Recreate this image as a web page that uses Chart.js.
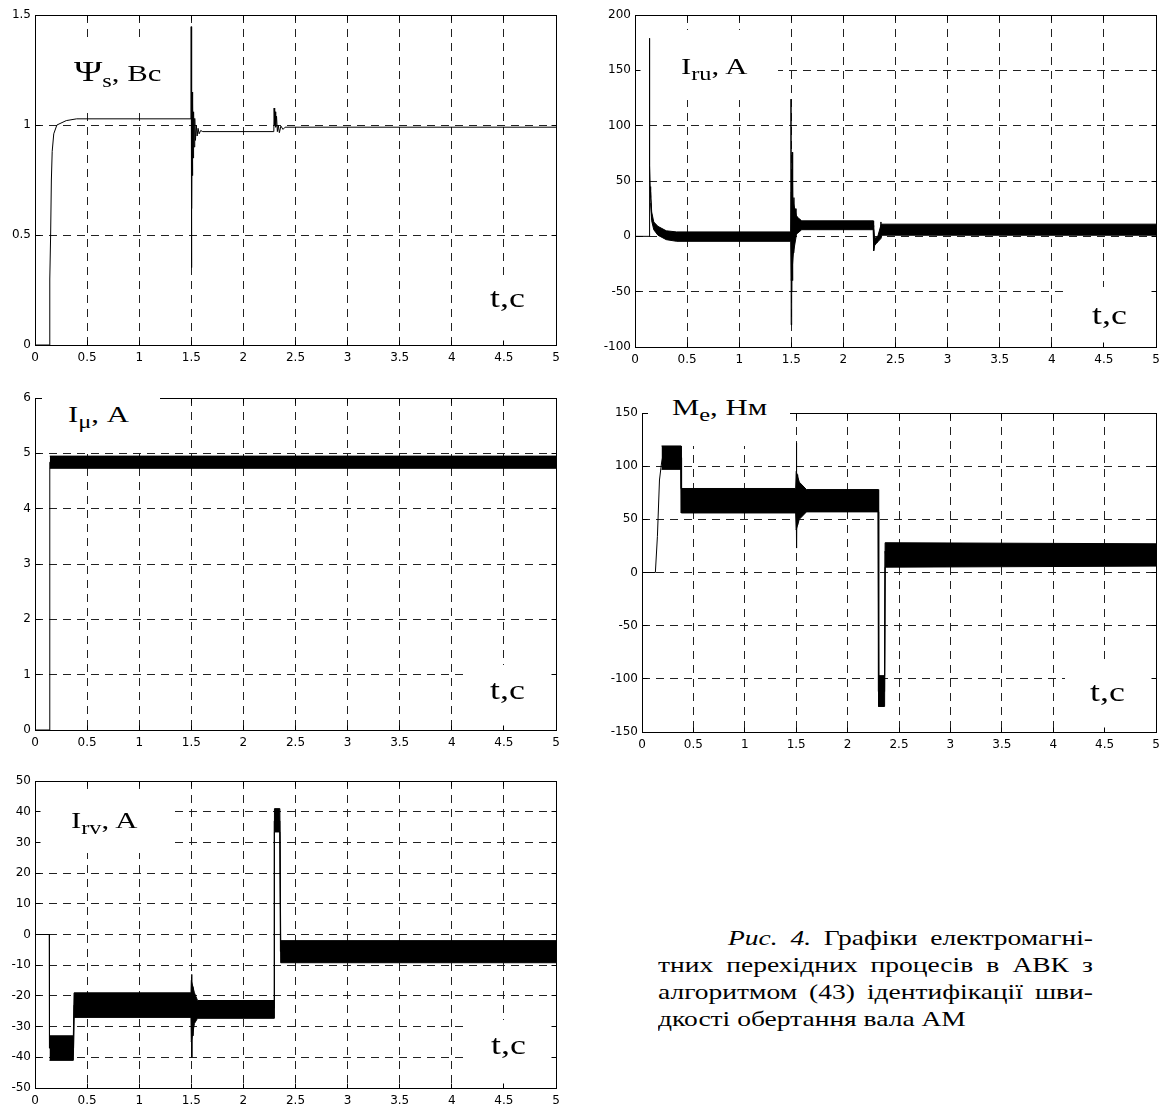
<!DOCTYPE html>
<html>
<head>
<meta charset="utf-8">
<script src="https://cdn.jsdelivr.net/npm/chart.js@4.4.0/dist/chart.umd.min.js"></script>
<style>
  html, body { margin: 0; padding: 0; background: #fff; }
  #page { position: relative; width: 1161px; height: 1104px; overflow: hidden; background: #fff; }
  canvas { position: absolute; }
  .box { position: absolute; background: #fff; z-index: 5; }
  .lbl { position: absolute; z-index: 6; font-family: 'Liberation Serif', 'Times New Roman', serif; font-size: 24px; line-height: 24px; white-space: nowrap; color: #000; transform: scaleX(1.28); transform-origin: 0 0; }
  .lbl .sub { font-size: 19px; vertical-align: -6px; }
  .lbl .big { font-size: 30px; }
  .lbl.tc { font-size: 28px; line-height: 28px; }
  .cap { position: absolute; z-index: 6; font-family: 'Liberation Serif', 'Times New Roman', serif; font-size: 22px; line-height: 22px; white-space: nowrap; color: #000; transform: scaleX(1.25); transform-origin: 0 0; }
  .just { display: flex; justify-content: space-between; }
</style>
</head>
<body>
<div id="page">
  <div class="lbl" style="left:74px;top:59px"><span class="big">Ψ</span><span class="sub">s</span>, Вс</div>
  <div class="lbl tc" style="left:490px;top:284px">t,с</div>

  <div class="lbl" style="left:681px;top:54px">I<span class="sub">ru</span>, A</div>
  <div class="lbl tc" style="left:1092px;top:301px">t,с</div>

  <div class="box" style="left:42px;top:384px;width:118px;height:64px"></div>
  <div class="lbl" style="left:68px;top:402px">I<span class="sub">μ</span>, A</div>
  <div class="lbl tc" style="left:490px;top:676px">t,с</div>

  <div class="box" style="left:648px;top:393px;width:142px;height:48px"></div>
  <div class="lbl" style="left:672px;top:395px">M<span class="sub">e</span>, Нм</div>
  <div class="lbl tc" style="left:1090px;top:678px">t,с</div>

  <div class="lbl" style="left:71px;top:808px">I<span class="sub">rv</span>, A</div>
  <div class="lbl tc" style="left:491px;top:1031px">t,с</div>

  <div class="cap just" style="left:728px;top:927px;width:292px"><i>Рис.</i><i>4.</i><span>Графіки</span><span>електромагні-</span></div>
  <div class="cap just" style="left:658px;top:954px;width:348px"><span>тних</span><span>перехідних</span><span>процесів</span><span>в</span><span>АВК</span><span>з</span></div>
  <div class="cap just" style="left:658px;top:981px;width:348px"><span>алгоритмом</span><span>(43)</span><span>ідентифікації</span><span>шви-</span></div>
  <div class="cap" style="left:658px;top:1008px">дкості обертання вала АМ</div>
</div>

<script>
// stator flux Psi_s, Vs
const fluxT = [0, 0.14, 0.142, 0.15, 0.157, 0.165, 0.18, 0.21, 0.3, 0.4,
  1.497, 1.499, 1.501, 1.503, 1.505, 1.508, 1.511, 1.514, 1.518, 1.522,
  1.527, 1.533, 1.54, 1.548, 1.556, 1.565, 1.575, 1.59, 1.61,
  2.292, 2.295, 2.3, 2.305, 2.31, 2.318, 2.326, 2.335, 2.345, 2.36, 2.38, 2.4, 5];
const fluxV = [0, 0, 0.3, 0.5, 0.75, 0.88, 0.96, 1.0, 1.02, 1.028,
  1.028, 1.447, 0.352, 1.237, 0.62, 1.15, 0.77, 1.1, 0.85, 1.06,
  0.9, 1.03, 0.93, 1.0, 0.95, 0.985, 0.96, 0.975, 0.97,
  0.97, 1.077, 1.0, 1.06, 0.99, 1.04, 0.97, 1.0, 0.965, 0.995, 0.98, 0.99, 0.99];

// rotor current I_ru, A
const iruT = [0, 0.1365, 0.137, 0.1385, 0.14, 0.1415, 0.143, 0.146, 0.15, 0.16,
  0.18, 0.25, 0.4, 1.495, 1.497, 1.499, 1.502, 1.505, 1.508, 1.511,
  1.515, 1.52, 1.525, 1.53, 1.537, 1.545, 1.555, 1.565, 1.58, 1.6,
  2.287, 2.29, 2.295, 2.3, 2.31, 2.32, 2.335, 2.35, 2.36, 2.37, 5];
const iruV = [0, 0, 179, 60, 125, 70, 64, 45, 35, 18,
  9, 3, -1, -1, 124, -80, 60, -50, 76, -40,
  50, -15, 35, -5, 25, 2, 18, 5, 14, 10,
  10, -13, 0, -8, -3, -6, -2, 0, 13, 6, 6];
const iruBandT = [0.15, 0.16, 0.18, 0.22, 0.3, 0.4, 1.495, 1.5, 1.52, 1.55, 1.6, 2.287, 2.29, 2.3, 2.33, 2.36, 2.37, 5];
const iruHi = [40, 22, 13, 9, 5, 4, 4, 40, 30, 18, 14, 14, 8, -2, 0, 10, 11, 11];
const iruLo = [30, 14, 6, 1, -3, -4.5, -4.5, -40, -15, 2, 6, 6, -13, -8, -5, -2, 1, 1];

// magnetising current I_mu, A
const imuT = [0, 0.14, 0.142, 5];
const imuV = [0, 0, 4.84, 4.84];
const imuBandT = [0.142, 5];
const imuHi = [4.95, 4.95];
const imuLo = [4.73, 4.73];

// electromagnetic torque M_e, Nm
const meT = [0, 0.13, 0.15, 0.17, 0.19, 0.2, 0.38, 0.385, 1.5, 1.502,
  1.505, 1.508, 1.512, 1.516, 1.52, 1.53, 1.54, 1.55, 1.6, 2.298,
  2.3, 2.36, 2.365, 2.37, 5];
const meV = [0, 0, 34, 87, 103, 108, 108, 67, 67, 122,
  23, 92, 45, 85, 55, 75, 60, 70, 67, 67,
  -112, -112, 20, 16, 16];
const meBandT = [0.19, 0.38, 0.382, 1.495, 1.5, 1.53, 1.6, 2.298, 2.302, 2.36, 2.365, 5];
const meHi = [119, 119, 79, 79, 95, 85, 78, 78, -97, -97, 28, 27];
const meLo = [97, 97, 56, 56, 40, 50, 57, 57, -126, -126, 5, 6];

// rotor current I_rv, A
const irvT = [0, 0.137, 0.139, 0.37, 0.375, 1.5, 1.503, 1.506, 1.51, 1.515,
  1.52, 1.53, 1.55, 2.294, 2.296, 2.35, 2.355, 5];
const irvV = [0, 0, -37, -37, -23, -23, -13, -40, -17, -33,
  -20, -28, -24, -24, 37, 37, -5.5, -5.5];
const irvBandT = [0.139, 0.368, 0.375, 1.497, 1.5, 1.53, 1.56, 2.294, 2.298, 2.35, 2.358, 5];
const irvHi = [-33, -33, -19, -19, -15, -19, -21.5, -21.5, 41, 41, -2, -2];
const irvLo = [-41, -41, -27, -27, -35, -29, -27.3, -27.3, 33.4, 33.4, -9.2, -9.2];

const page = document.getElementById('page');
const tickFont = { family: 'DejaVu Sans', size: 12 };

function pts(t, v) {
  return t.map((x, i) => ({ x: x, y: v[i] }));
}

function trace(t, v) {
  return { data: pts(t, v), borderColor: '#000', borderWidth: 1, pointRadius: 0, fill: false };
}

// dense PWM ripple drawn as a filled envelope
function band(t, hi, lo) {
  return [
    { data: pts(t, hi), borderColor: '#000', borderWidth: 1, pointRadius: 0, backgroundColor: '#000', fill: '+1' },
    { data: pts(t, lo), borderColor: '#000', borderWidth: 1, pointRadius: 0, fill: false }
  ];
}

// white text backgrounds: hide the grid, but stay under the curves
const masks = {
  id: 'masks',
  beforeDatasetsDraw(chart, args, opts) {
    const ctx = chart.ctx;
    ctx.save();
    ctx.fillStyle = '#fff';
    (opts.rects || []).forEach(r => ctx.fillRect(r[0], r[1], r[2], r[3]));
    ctx.restore();
  }
};

// matlab style box with inward ticks on all sides
const frame = {
  id: 'frame',
  afterDraw(chart) {
    const { ctx, chartArea: a, scales } = chart;
    const al = p => Math.round(p - 0.5) + 0.5;
    ctx.save();
    ctx.strokeStyle = '#000';
    ctx.lineWidth = 1;
    ctx.beginPath();
    scales.x.ticks.forEach(tk => {
      const px = al(scales.x.getPixelForValue(tk.value));
      ctx.moveTo(px, al(a.bottom)); ctx.lineTo(px, al(a.bottom) - 5);
      ctx.moveTo(px, al(a.top)); ctx.lineTo(px, al(a.top) + 5);
    });
    scales.y.ticks.forEach(tk => {
      const py = al(scales.y.getPixelForValue(tk.value));
      ctx.moveTo(al(a.left), py); ctx.lineTo(al(a.left) + 5, py);
      ctx.moveTo(al(a.right), py); ctx.lineTo(al(a.right) - 5, py);
    });
    ctx.stroke();
    ctx.strokeRect(al(a.left), al(a.top), al(a.right) - al(a.left), al(a.bottom) - al(a.top));
    ctx.restore();
  }
};

function makePlot(box, yMin, yMax, yStep, datasets, holes) {
  const cv = document.createElement('canvas');
  const left = box.x - 40, top = box.y - 20;
  cv.width = box.w + 50;
  cv.height = box.h + 42;
  cv.style.left = left + 'px';
  cv.style.top = top + 'px';
  page.insertBefore(cv, page.firstChild);
  const grid = { color: '#222', lineWidth: 1, drawTicks: false };
  const border = { display: false, dash: [8, 6] };
  new Chart(cv, {
    type: 'line',
    data: { datasets: datasets },
    options: {
      responsive: false,
      animation: false,
      devicePixelRatio: 1,
      layout: { padding: { top: 20, right: 10, left: 0, bottom: 0 } },
      plugins: {
        legend: { display: false },
        tooltip: { enabled: false },
        masks: { rects: holes.map(r => [r[0] - left, r[1] - top, r[2], r[3]]) }
      },
      scales: {
        x: {
          type: 'linear', min: 0, max: 5,
          ticks: { stepSize: 0.5, autoSkip: false, maxRotation: 0, padding: 6, color: '#000', font: tickFont,
            callback: v => String(Math.round(v * 10) / 10) },
          grid: grid, border: border,
          afterFit: s => { s.height = 22; }
        },
        y: {
          type: 'linear', min: yMin, max: yMax,
          ticks: { stepSize: yStep, padding: 4, color: '#000', font: tickFont,
            callback: v => String(Math.round(v * 100) / 100) },
          grid: grid, border: border,
          afterFit: s => { s.width = 40; }
        }
      }
    },
    plugins: [masks, frame]
  });
}

makePlot({ x: 35, y: 15, w: 521, h: 330 }, 0, 1.5, 0.5, [trace(fluxT, fluxV)],
  [[60, 37, 115, 70], [467, 277, 89, 68]]);
makePlot({ x: 635, y: 15, w: 521, h: 332 }, -100, 200, 50, band(iruBandT, iruHi, iruLo).concat([trace(iruT, iruV)]),
  [[636, 30, 142, 70], [1065, 287, 91, 60]]);
makePlot({ x: 35, y: 398, w: 521, h: 332 }, 0, 6, 1, band(imuBandT, imuHi, imuLo).concat([trace(imuT, imuV)]),
  [[467, 665, 89, 65]]);
makePlot({ x: 642, y: 413, w: 514, h: 319 }, -150, 150, 50, band(meBandT, meHi, meLo).concat([trace(meT, meV)]),
  [[648, 413, 142, 33], [1065, 665, 91, 67]]);
makePlot({ x: 35, y: 781, w: 521, h: 307 }, -50, 50, 10, band(irvBandT, irvHi, irvLo).concat([trace(irvT, irvV)]),
  [[36, 790, 137, 63], [467, 1020, 89, 68]]);
</script>
</body>
</html>
